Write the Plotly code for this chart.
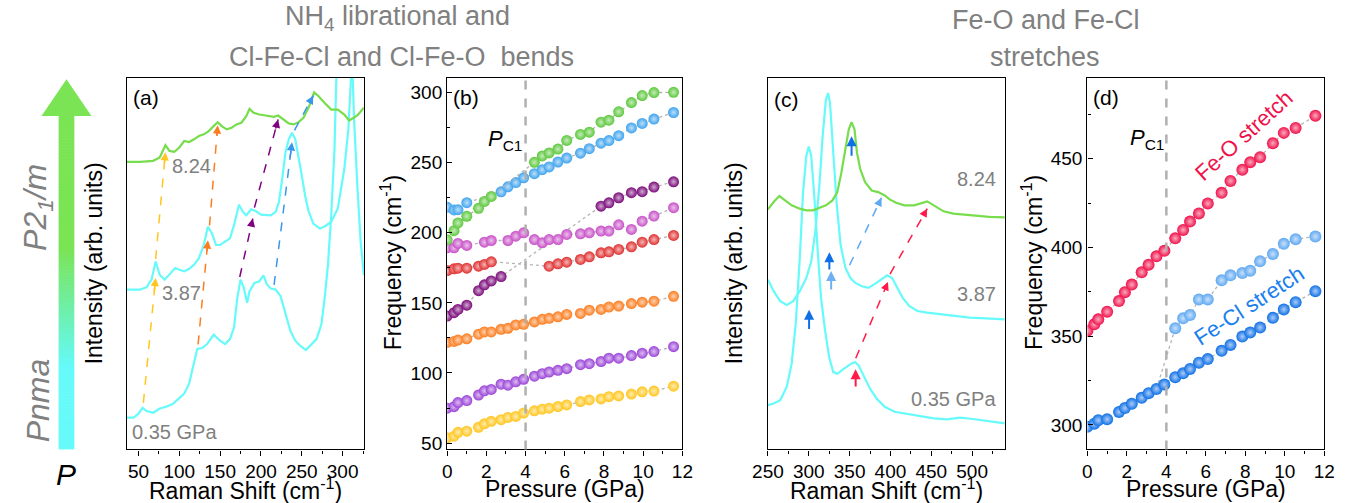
import plotly.graph_objects as go

# ---------------- data ----------------
# Panel (a): Raman spectra, low-frequency region (cm-1, arb. units)
a_x_035 = [36, 44, 50, 55, 60, 68, 76, 84, 92, 100, 106, 112, 118, 122, 128, 134, 142, 150, 156, 162, 167, 171,
           175, 179, 183, 186, 192, 198, 203, 207, 212, 218, 224, 230, 236, 242, 248, 255, 262, 268, 274, 278,
           282, 286, 290, 293, 296, 300, 305, 310, 312, 314, 318, 322, 326]
a_y_035 = [32, 32, 36, 42, 38.7, 37, 41.3, 43, 45.7, 51.3, 56.3, 66.3, 86.3, 101.3, 102.3, 106.3, 115.7, 109.7,
           106.3, 111.3, 123, 153, 171.3, 163, 148, 159.7, 168, 169.7, 175.7, 167, 162.3, 161.3, 154.7, 136.3,
           119.7, 109.7, 104.7, 100.3, 106.3, 111.3, 126.3, 153, 186.3, 236.3, 303, 369.7, 520, 620, 560, 420,
           380, 333, 266, 210, 176]
a_x_387 = [36, 52, 60, 66, 71, 76, 82, 88, 95, 100, 106, 112, 118, 124, 130, 135, 140, 145, 150, 156, 162, 167,
           173, 178, 182, 188, 194, 200, 206, 212, 218, 222, 226, 230, 234, 238, 242, 246, 250, 254, 258, 264,
           272, 278, 286, 294, 302, 307, 310, 313, 318, 322, 326]
a_y_387 = [161.3, 161.3, 163.7, 171.3, 189.7, 176.3, 171.3, 176.3, 183, 181.3, 179.7, 182.3, 186.3, 193, 206.3,
           224.7, 218, 206.3, 206.3, 209.7, 213, 226.3, 247, 239.7, 236.3, 242.3, 240.3, 237, 236.3, 236.3, 239.7,
           249.7, 273, 299.7, 313, 319.7, 313, 296.3, 276.3, 256.3, 241.3, 228, 223, 225, 229.7, 243, 283, 323,
           359.7, 420, 520, 560, 520]
a_x_824 = [36, 52, 68, 76, 83, 88, 94, 100, 106, 112, 118, 124, 130, 136, 142, 147, 152, 158, 164, 170, 176, 182,
           186, 191, 198, 204, 210, 216, 221, 227, 234, 240, 246, 252, 259, 265, 270, 278, 286, 294, 302, 308,
           318, 326]
a_y_824 = [290.3, 290.3, 291.3, 294.7, 307, 301.3, 300.3, 304.7, 311.3, 310.3, 313, 316.3, 318, 321.3, 326.3,
           330.3, 326.3, 323, 324.7, 328, 329.7, 336.3, 343.7, 339.7, 338, 337, 336.3, 335.7, 337, 333, 329, 328,
           330.3, 334.7, 346.3, 360.3, 357, 349.7, 343, 343, 338, 332, 337, 345]

# Panel (c): Raman spectra, stretching region
c_x_035 = [250, 257, 265, 273, 279, 284, 289, 293, 297, 300, 303, 307, 311, 315, 320, 325, 330, 335, 341, 347,
           353, 357, 361, 367, 375, 383, 393, 405, 421, 437, 453, 469, 485, 501, 517, 540]
c_y_035 = [44.7, 46.3, 49.7, 63, 86.3, 126.3, 193, 259.7, 296.3, 305.7, 296.3, 253, 199.7, 153, 119.7, 93, 78,
           76.3, 80.3, 83.7, 87, 88, 84.7, 74.7, 61.3, 51.3, 43, 38, 35.7, 33, 31.3, 30.3, 32, 30.7, 28.7, 26.3]
c_x_387 = [250, 257, 265, 273, 281, 289, 297, 303, 308, 313, 317, 321, 323.6, 326, 330, 334, 339, 345, 351, 357,
           365, 373, 381, 388, 396, 402, 408, 415, 423, 433, 445, 461, 477, 497, 517, 540]
c_y_387 = [171.3, 159.7, 149.7, 145.7, 149.7, 159.7, 173, 189.7, 219.7, 266.3, 316.3, 353, 359.7, 349.7, 299.7,
           249.7, 206.3, 183, 173, 168, 164.7, 163, 167, 171.3, 175.7, 173, 163, 153, 144.7, 139.7, 138, 136.3,
           134.7, 133, 132.3, 131.3]
c_x_824 = [250, 257, 264, 271, 279, 289, 297, 305, 313, 321, 329, 335, 340, 345, 349, 352.4, 356, 359, 363, 369,
           377, 385, 393, 399, 407, 417, 429, 445, 453, 465, 477, 489, 505, 521, 540]
c_y_824 = [242.3, 249.7, 255.7, 251.3, 246.3, 243, 241.3, 241.3, 243.7, 246.3, 251.3, 259.7, 279.7, 303, 323,
           330.3, 323, 299.7, 283, 269.7, 261.3, 259.7, 256.3, 252.3, 249, 246.3, 246.3, 250.3, 246.3, 240.3, 238,
           237, 235.7, 234.7, 234.3]

# Pressures (GPa)
P = [0.0, 0.35, 0.55, 1.0, 1.6, 1.9, 2.25, 2.75, 3.1, 3.5, 3.9, 4.45, 4.85, 5.2, 5.65, 6.1, 6.8, 7.25, 7.85,
     8.25, 8.75, 9.4, 9.95, 10.55, 11.55]
N = None
# Panel (b) frequencies (cm-1)
b_yellow = [53.8, 54.9, 57.7, 58.5, 61.3, 63.8, 65.5, 66.7, 68.3, 69, 71.4, 73, 74.2, 74.9, 76.1, 77.2, 79.6,
            80.8, 81.5, 83.1, 83.6, 85, 86.6, 87.1, 90.6]
b_violet = [74.9, 76, 78.9, 80.3, 84.3, 87.3, 88.3, 92, 91.3, 93.7, 95.5, 97.7, 99.5, 100.7, 101.9, 103.1, 105.9,
            106.6, 108.2, 110.6, 110.6, 112.4, 114.1, 115.3, 118.8]
b_orange = [121.8, 122.5, 123.5, 124.4, 127.7, 129.3, 129.3, 131.2, 131.9, 134.3, 134.7, 136.4, 138.3, 139, 140.1,
            141.8, 142.5, 144.8, 145.3, 147, 147.7, 149.5, 150.5, 151.2, 154.7]
b_dpurple = [140.6, 143, 145.3, 148.4, 158.7, 162.9, 165.7, 168.8, N, N, N, N, N, N, N, N, N, N, 219, 221.4, 225,
             228.6, 229.3, 232.6, 236.4]
b_red = [173.1, 174.3, 174.8, 174.8, 176.2, 177.4, 179.3, N, N, N, N, N, N, 176.2, 177.9, 179, 181, 182.9, 185.7,
         186.4, 188.1, 190, 193.3, 195.2, 198.1]
b_pink = [189.3, 189.3, 192.4, 191, N, 193.3, 194.5, N, 194.5, 197.6, 200, 195.2, 192.9, 195.2, 195.2, 198.8,
          199.3, 200, 201.2, 201.2, 205.7, 202.4, 208.3, 211.9, 217.9]
b_blue = [218.2, 216.3, 216.5, 221.5, N, N, N, 229.2, 232.8, 235.8, 239.2, 242.2, 245, 247, 250.5, 253.3, 256.8,
          260, 263.9, 265.8, 269.3, 274.8, 278, 281.1, 285.8]
b_green = [195, 201.5, 207, 211.8, 217.5, 222.4, 225.9, N, N, N, N, 250.3, 254.8, 257, 259.7, 265.9, 270.2,
           271.8, 278.9, 280.3, 286.3, 292.9, 297.9, 300, 300.2]

# Panel (d) frequencies (cm-1)
d_feo = [353.0, 356.7, 359.5, 363.8, 369.8, 374.8, 379.1, 386.0, 390.3, 395.0, 398.1, 405.2, 409.9, 414.6, 419.2,
         424.8, 430.8, 437.5, 443.8, 448.1, 450.9, 458.8, 464.6, 467.4, 474.3]
d_fecl = [298.9, 300.7, 302.6, 303.2, 307.3, 309.5, 311.9, 315.3, 317.9, 320.3, 322.8, 326.9, 329.1, 331.5, 335.1,
          337.1, 341.8, 345.1, 349.8, 352.1, 354.9, 360.4, 365.1, 369.2, 375.4]
d_fecl2 = [N] * 11 + [354.5, 360.1, 361.9, 370.7, 370.7, 381.5, 384.3, 385.6, 386.9, 392.2, 396.3, 402.1, 404.7,
                      406.2]

# tick labels / text
a_labels = ["0.35 GPa", "3.87", "8.24"]
PC = 4.0

# ---------------- styling ----------------
W, H = 1348, 503
FONT = "Liberation Sans, Arial, sans-serif"
GRAY = "#808080"
CYAN = "#66fafa"
GREEN = "#78dd4c"


def px(x):
    return x / W


def py(y):
    return 1 - y / H


def lighten(hexc, f=0.65):
    h = hexc.lstrip("#")
    r, g, b = int(h[0:2], 16), int(h[2:4], 16), int(h[4:6], 16)
    r, g, b = [int(v + (255 - v) * f) for v in (r, g, b)]
    return f"rgb({r},{g},{b})"


TOP, BOT = 78.5, 453
DY = [py(BOT), py(TOP)]

fig = go.Figure()

# spectra (a)
for xs, ys, col in [(a_x_035, a_y_035, CYAN), (a_x_387, a_y_387, CYAN), (a_x_824, a_y_824, GREEN)]:
    fig.add_trace(go.Scatter(x=xs, y=ys, mode="lines", line=dict(color=col, width=2.2),
                             xaxis="x", yaxis="y", showlegend=False, hoverinfo="skip"))
# spectra (c)
for xs, ys, col in [(c_x_035, c_y_035, CYAN), (c_x_387, c_y_387, CYAN), (c_x_824, c_y_824, GREEN)]:
    fig.add_trace(go.Scatter(x=xs, y=ys, mode="lines", line=dict(color=col, width=2.2),
                             xaxis="x3", yaxis="y3", showlegend=False, hoverinfo="skip"))


def series(xs, ys, col, xa, ya, size):
    fig.add_trace(go.Scatter(
        x=xs, y=ys, mode="lines+markers", connectgaps=True,
        line=dict(color="#b4b4b4", width=1.3, dash="dot"),
        marker=dict(size=size, color=col, line=dict(width=0),
                    gradient=dict(type="radial", color=lighten(col))),
        xaxis=xa, yaxis=ya, showlegend=False, cliponaxis=True))


for ys, col in [(b_yellow, "#ffc61e"), (b_violet, "#9b45d8"), (b_orange, "#fb7d1f"), (b_dpurple, "#7a0a7a"),
                (b_red, "#e03030"), (b_pink, "#c850c8"), (b_blue, "#3ea3ee"), (b_green, "#5cc83c")]:
    series(P, ys, col, "x2", "y2", 11)

# connector in (d)
fig.add_trace(go.Scatter(x=[P[9], P[11]], y=[d_fecl[9], d_fecl2[11]], mode="lines",
                         line=dict(color="#b4b4b4", width=1.3, dash="dot"),
                         xaxis="x4", yaxis="y4", showlegend=False))
series(P, d_fecl2, "#5fa8f2", "x4", "y4", 12)
series(P, d_fecl, "#0f70e6", "x4", "y4", 12)
series(P, d_feo, "#f0104a", "x4", "y4", 12)

# ---------------- axes ----------------
tickfont = dict(size=19, color="black", family=FONT)
common = dict(showline=True, mirror=True, linecolor="black", linewidth=1.3, showgrid=False, zeroline=False,
              tickfont=tickfont, tickcolor="black")

xa = dict(common, ticks="outside", ticklen=5, tickwidth=1.2)
ya = dict(common, ticks="inside", ticklen=5, tickwidth=1.2)

fig.update_layout(
    xaxis=dict(xa, domain=[px(113.3), px(355)], range=[36, 326], dtick=50, tick0=0, anchor="y",
               minor=dict(dtick=25, tick0=0, ticks="outside", ticklen=3, tickcolor="black")),
    yaxis=dict(common, domain=DY, range=[0, 375], showticklabels=False, ticks="", anchor="x"),
    xaxis2=dict(xa, domain=[px(440), px(680)], range=[0, 12], dtick=2, anchor="y2",
                minor=dict(dtick=1, ticks="outside", ticklen=3, tickcolor="black")),
    yaxis2=dict(ya, domain=DY, range=[45.5, 310.5], dtick=50, anchor="x2",
                minor=dict(dtick=25, tick0=0, ticks="inside", ticklen=3, tickcolor="black")),
    xaxis3=dict(xa, domain=[px(767.3), px(1009)], range=[250, 540], dtick=50, tick0=0, anchor="y3",
                minor=dict(dtick=25, tick0=0, ticks="outside", ticklen=3, tickcolor="black")),
    yaxis3=dict(common, domain=DY, range=[0, 375], showticklabels=False, ticks="", anchor="x3"),
    xaxis4=dict(xa, domain=[px(1093.3), px(1335)], range=[0, 12], dtick=2, anchor="y4",
                minor=dict(dtick=1, ticks="outside", ticklen=3, tickcolor="black")),
    yaxis4=dict(ya, domain=DY, range=[286.2, 495.6], dtick=50, anchor="x4",
                minor=dict(dtick=25, tick0=0, ticks="inside", ticklen=3, tickcolor="black")),
    width=W, height=H, margin=dict(l=0, r=0, t=0, b=0),
    paper_bgcolor="white", plot_bgcolor="white",
    font=dict(family=FONT, color="black"),
)

ann = []
shapes = []


def text(x, y, t, size, color="black", xanchor="center", yanchor="middle", angle=0, xref="paper", yref="paper"):
    ann.append(dict(x=x, y=y, text=t, showarrow=False, xref=xref, yref=yref, xanchor=xanchor, yanchor=yanchor,
                    textangle=angle, font=dict(size=size, color=color, family=FONT)))


# headers
text(px(389), py(18), "NH<sub>4</sub> librational and", 27, GRAY)
text(px(393), py(57), "Cl-Fe-Cl and Cl-Fe-O \u00a0bends", 27, GRAY)
text(px(1051), py(20), "Fe-O and Fe-Cl", 27, GRAY)
text(px(1050), py(57), "stretches", 27, GRAY)

# axis titles
XT = 493
text(px(234), py(XT), "Raman Shift (cm<sup>-1</sup>)", 23)
text(px(560), py(XT), "Pressure (GPa)", 23)
text(px(888), py(XT), "Raman Shift (cm<sup>-1</sup>)", 23)
text(px(1214), py(XT), "Pressure (GPa)", 23)
text(px(79), py(265), "Intensity (arb. units)", 23, angle=-90)
text(px(733), py(265), "Intensity (arb. units)", 23, angle=-90)
text(px(383), py(265), "Frequency (cm<sup>-1</sup>)", 23, angle=-90)
text(px(1037), py(265), "Frequency (cm<sup>-1</sup>)", 23, angle=-90)

# panel labels
text(px(117), py(98), "(a)", 21, xanchor="left")
text(px(444), py(98), "(b)", 21, xanchor="left")
text(px(771), py(100), "(c)", 21, xanchor="left")
text(px(1097), py(98), "(d)", 21, xanchor="left")

# spectra labels
text(88, 286, a_labels[2], 20, GRAY, xanchor="left", xref="x", yref="y")
text(76, 158, a_labels[1], 20, GRAY, xanchor="left", xref="x", yref="y")
text(40, 18, a_labels[0], 20, GRAY, xanchor="left", xref="x", yref="y")
text(532, 273, a_labels[2], 20, GRAY, xanchor="right", xref="x3", yref="y3")
text(532, 157, a_labels[1], 20, GRAY, xanchor="right", xref="x3", yref="y3")
text(532, 51, a_labels[0], 20, GRAY, xanchor="right", xref="x3", yref="y3")

# P_C1 labels
text(2.0, 266, "<i>P</i><sub>C1</sub>", 22, xanchor="left", xref="x2", yref="y2")
text(2.05, 461, "<i>P</i><sub>C1</sub>", 22, xanchor="left", xref="x4", yref="y4")

# stretch labels
text(7.93, 463, "Fe-O stretch", 22, "#f0104a", angle=-42, xref="x4", yref="y4")
text(8.2, 367.5, "Fe-Cl stretch", 22, "#1a80ee", angle=-33, xref="x4", yref="y4")

# left side labels
text(px(22), py(209), "<i>P2<sub>1</sub>/m</i>", 32, GRAY, angle=-90)
text(px(22), py(404), "<i>Pnma</i>", 32, GRAY, angle=-90)
text(px(51), py(478), "<i>P</i>", 30)

# vertical dashed lines at Pc1
for xr, yr in [("x2", "y2 domain"), ("x4", "y4 domain")]:
    shapes.append(dict(type="line", xref=xr, yref=yr, x0=PC, x1=PC, y0=0, y1=1,
                       line=dict(color="#b0b0b0", width=2.5, dash="dash")))


def dashed_arrow(x0, y0, x1, y1, col, xr, yr):
    shapes.append(dict(type="line", xref=xr, yref=yr, x0=x0, y0=y0, x1=x1, y1=y1,
                       line=dict(color=col, width=1.5, dash="dash")))
    ann.append(dict(x=x1, y=y1, ax=x1 - 0.12 * (x1 - x0), ay=y1 - 0.12 * (y1 - y0), xref=xr, yref=yr,
                    axref=xr, ayref=yr, showarrow=True, arrowhead=2, arrowsize=1.1, arrowwidth=1.5,
                    arrowcolor=col, text=""))


a_arrows = [(56, 47, 71, 173, "#ffc61e"), (71, 192, 83, 300, "#ffc61e"),
            (123, 106, 135, 211, "#fb7d1f"), (137, 226, 147, 327, "#fb7d1f"),
            (174, 174, 190, 233, "#800080"), (192, 244, 221, 333, "#800080"),
            (216, 166, 238, 310, "#3a96ea"), (241, 322, 264, 357, "#3a96ea")]
for x0, y0, x1, y1, col in a_arrows:
    dashed_arrow(x0, y0, x1, y1, col, "x", "y")

c_dashed = [(350, 186, 389, 254, "#5fa8f2"), (357.5, 92, 397, 169, "#ff1a4a"), (399.5, 177, 445, 243, "#ff1a4a")]
for x0, y0, x1, y1, col in c_dashed:
    dashed_arrow(x0, y0, x1, y1, col, "x3", "y3")

c_solid = [(300.4, 120, 141, "#0f70e6"), (325.2, 180, 199, "#0f70e6"), (327.4, 160, 180, "#6fb0f2"),
           (352.4, 295, 316, "#0f70e6"), (357.4, 62, 81, "#ff1a4a")]
for x, y0, y1, col in c_solid:
    ann.append(dict(x=x, y=y1, ax=x, ay=y0, xref="x3", yref="y3", axref="x3", ayref="y3", showarrow=True,
                    arrowhead=2, arrowsize=1.0, arrowwidth=2, arrowcolor=col, text=""))

# big gradient arrow on the left
c0 = (102, 250, 250)
c1 = (122, 228, 84)
ytop_shaft, ybot = 117, 453
step = 3
y = ybot
while y > ytop_shaft:
    yn = max(y - step, ytop_shaft)
    t = min(max((370 - (y + yn) / 2) / 120.0, 0), 1)
    col = "rgb(%d,%d,%d)" % tuple(int(a + (b - a) * t) for a, b in zip(c0, c1))
    shapes.append(dict(type="rect", xref="paper", yref="paper", x0=px(43.5), x1=px(59.5), y0=py(y),
                       y1=py(yn - 0.6), fillcolor=col, line=dict(width=0), layer="below"))
    y = yn
shapes.append(dict(type="path", xref="paper", yref="paper",
                   path=f"M {px(26)},{py(117)} L {px(77)},{py(117)} L {px(51.5)},{py(80)} Z",
                   fillcolor="rgb(%d,%d,%d)" % c1, line=dict(width=0)))

fig.update_layout(annotations=ann, shapes=shapes)
fig.write_html("out.html", config={"displayModeBar": False},
               post_script="document.body.style.margin='0px';document.body.style.padding='0px';")
